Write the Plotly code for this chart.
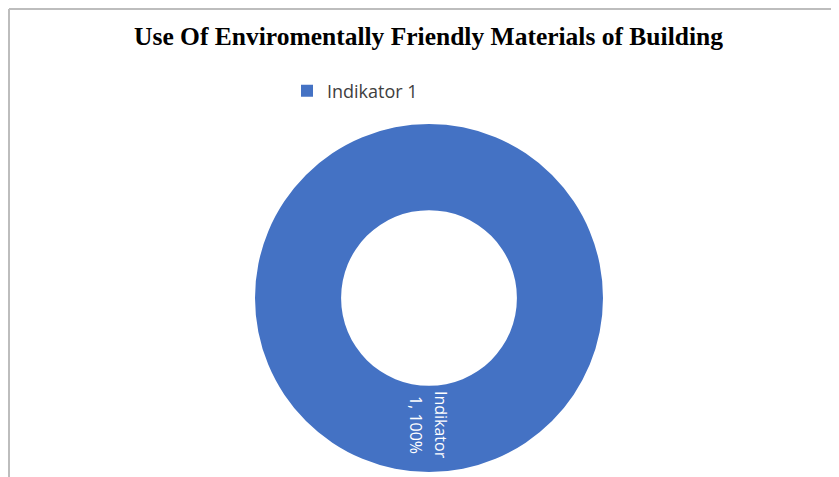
import plotly.graph_objects as go

labels = ["Indikator 1"]
values = [1]
percents = ["100%"]

# browser body margin offsets the figure by 8px
OFF = 8
W, H = 839 - OFF, 477 - OFF
colors = ["#4472C4"]


def xp(px):
    return (px - OFF) / W


def yp(py):
    return 1 - (py - OFF) / H


# pie geometry (screen pixels)
cx, cy, r_out = 429, 298, 174
hole = 0.505

fig = go.Figure()
fig.add_trace(go.Pie(
    labels=labels, values=values, hole=hole,
    marker=dict(colors=colors, line=dict(color="white", width=0)),
    textinfo="none", sort=False, direction="clockwise", rotation=0,
    domain=dict(x=[xp(cx - r_out), xp(cx + r_out)], y=[yp(cy + r_out), yp(cy - r_out)]),
    showlegend=True, hoverinfo="label+percent",
))

# data label (two rotated lines) at the middle of the ring, bottom
r_mid = r_out * (1 + hole) / 2
name_part, num_part = labels[0].split(" ")
lines = [(name_part, 12), (f"{num_part}, {percents[0]}", -13)]
for txt, dx in lines:
    fig.add_annotation(
        x=xp(cx), y=yp(cy + r_mid - 4), xref="paper", yref="paper",
        xanchor="center", yanchor="middle", xshift=dx,
        text=txt, textangle=90, showarrow=False,
        font=dict(family="Open Sans, Noto Sans, sans-serif", size=16, color="white"),
    )

# chart frame (top and left edges)
fig.add_shape(type="line", xref="paper", yref="paper", x0=1 / W, x1=1, y0=1 - 1 / H, y1=1 - 1 / H,
              line=dict(color="#BDBDBD", width=2))
fig.add_shape(type="line", xref="paper", yref="paper", x0=1 / W, x1=1 / W, y0=0, y1=1 - 1 / H,
              line=dict(color="#BDBDBD", width=2))

fig.update_layout(
    width=W, height=H, margin=dict(l=0, r=0, t=0, b=0),
    paper_bgcolor="white", plot_bgcolor="white",
    title=dict(text="<b>Use Of Enviromentally Friendly Materials of Building</b>",
               x=xp(428.5), xanchor="center", y=yp(36.5), yanchor="middle",
               font=dict(family="Liberation Serif, Times New Roman, serif", size=25.5, color="black")),
    legend=dict(orientation="h", x=xp(287), xanchor="left", y=yp(91), yanchor="middle",
                font=dict(family="Open Sans, Noto Sans, sans-serif", size=18, color="#404040"),
                bgcolor="rgba(0,0,0,0)"),
)

fig.write_html("out.html")
